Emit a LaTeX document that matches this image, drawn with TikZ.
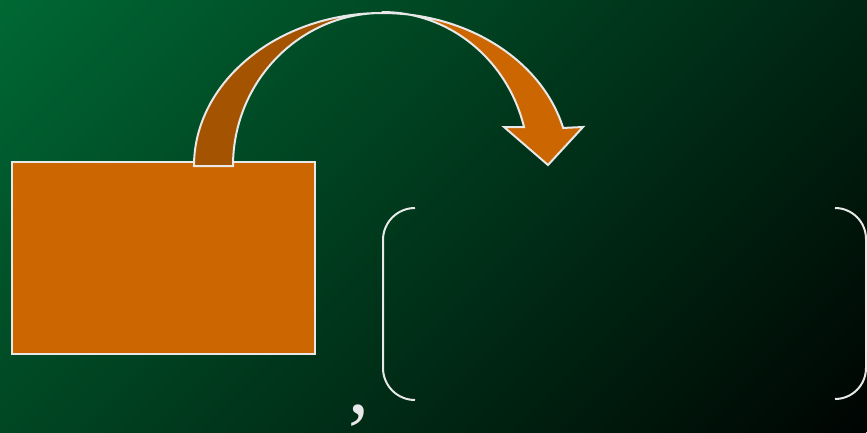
\documentclass[tikz,border=0pt]{standalone}
\usepackage{fontspec}
\setmainfont{Liberation Serif}
\usepackage{xcolor}
\usepackage{tikz}
\usetikzlibrary{shapes,arrows,positioning}

\definecolor{bgtop}{RGB}{0,104,52}
\definecolor{bgbottom}{RGB}{0,4,2}
\definecolor{boxorange}{RGB}{204,102,0}
\definecolor{backorange}{RGB}{164,84,0}
\definecolor{edgewhite}{RGB}{232,232,232}

\begin{document}
\begin{tikzpicture}[
    x=1pt, y=1pt,
    box/.style={
        rectangle,
        draw=edgewhite,
        fill=boxorange,
        line width=2pt,
        minimum width=303pt,
        minimum height=192pt,
        inner sep=0pt
    },
    band/.style={draw=edgewhite, line width=2pt, line join=miter},
    bracket/.style={draw=edgewhite, line width=2pt},
    mark text/.style={text=edgewhite, font=\fontsize{84}{84}\selectfont, inner sep=0pt}
]
\useasboundingbox (0,0) rectangle (867,432);

% Background, diagonal gradient from top left
\begin{scope}
    \clip (0,0) rectangle (867,432);
    \shade[left color=bgtop, right color=bgbottom,
        transform canvas={rotate around={-45:(0,432)}}]
        (0,-400) rectangle (918.5,1300);
\end{scope}

% Nodes
\node[box] (source) at (163.5,174) {};
\coordinate (apex) at (382,419);

% Curved arrow, back half
\path[band, fill=backorange] (194,266)
    arc[start angle=180, end angle=90, x radius=188, y radius=153]
    arc[start angle=90, end angle=180, x radius=149, y radius=153]
    -- cycle;

% Curved arrow, front half with head
\path[band, fill=boxorange] (apex)
    arc[start angle=90, end angle=14.4, x radius=187, y radius=153]
    -- (583,305) -- (548,267) -- (504,305) -- (524,305)
    arc[start angle=14.4, end angle=90, x radius=146, y radius=153]
    -- cycle;

% Brackets
\path[bracket] (415,224) arc[start angle=90, end angle=180, radius=32]
    -- (383,64) arc[start angle=180, end angle=270, radius=32];
\path[bracket] (835,224) arc[start angle=90, end angle=0, radius=31]
    -- (866,64) arc[start angle=0, end angle=-90, radius=31];

% Comma
\node[mark text, anchor=base] (comma) at (359,19) {,};

\end{tikzpicture}
\end{document}
